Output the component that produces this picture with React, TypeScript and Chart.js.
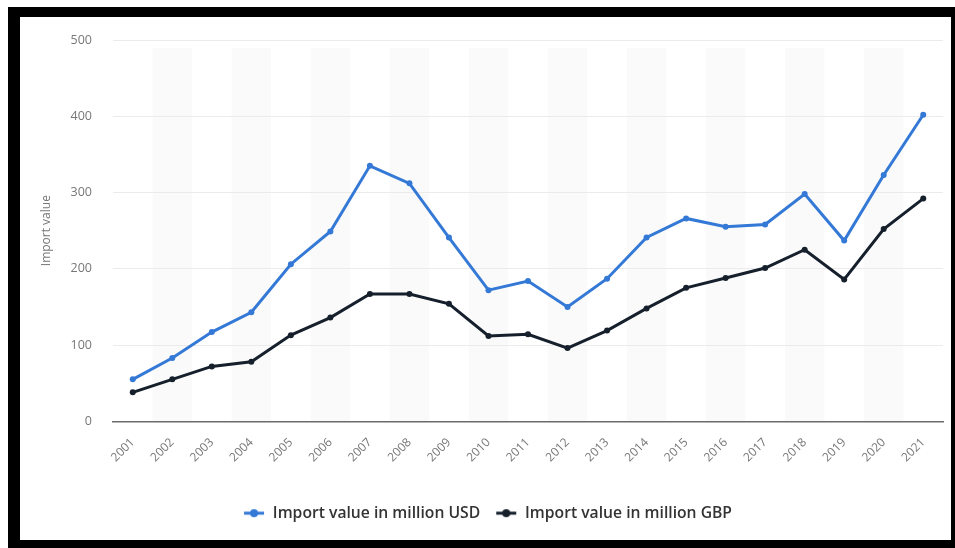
import React, { useEffect, useRef } from "react";
import { Chart, registerables } from "chart.js";

Chart.register(...registerables);

const years = ["2001","2002","2003","2004","2005","2006","2007","2008","2009","2010","2011","2012","2013","2014","2015","2016","2017","2018","2019","2020","2021"];
const usdValues = [55, 83, 117, 143, 206, 249, 335, 312, 241, 172, 184, 150, 187, 241, 266, 255, 258, 298, 237, 323, 402];
const gbpValues = [38, 55, 72, 78, 113, 136, 167, 167, 154, 112, 114, 96, 119, 148, 175, 188, 201, 225, 186, 252, 292];
const yTicks = [0, 100, 200, 300, 400, 500];
const seriesNames = ["Import value in million USD", "Import value in million GBP"];

const USD_COLOR = "#3479d6";
const GBP_COLOR = "#16202c";

function makeMarker(color: string): HTMLCanvasElement {
  const c = document.createElement("canvas");
  c.width = 22;
  c.height = 10;
  const ctx = c.getContext("2d")!;
  ctx.strokeStyle = color;
  ctx.lineWidth = 3;
  ctx.beginPath();
  ctx.moveTo(1, 5);
  ctx.lineTo(21, 5);
  ctx.stroke();
  ctx.fillStyle = color;
  ctx.beginPath();
  ctx.arc(11, 5, 4, 0, Math.PI * 2);
  ctx.fill();
  return c;
}

const bandPlugin = {
  id: "bands",
  beforeDraw(chart: any) {
    const { ctx, chartArea, scales } = chart;
    const x = scales.x;
    const w = (chartArea.right - chartArea.left) / years.length;
    ctx.save();
    ctx.fillStyle = "#fafafa";
    for (let i = 1; i < years.length; i += 2) {
      const cx = x.getPixelForValue(i);
      ctx.fillRect(cx - w / 2, chartArea.top + 8, w, chartArea.bottom - chartArea.top - 8);
    }
    ctx.restore();
  },
};

export default function App() {
  const ref = useRef<HTMLCanvasElement | null>(null);
  useEffect(() => {
    if (!ref.current) return;
    const markers = [makeMarker(USD_COLOR), makeMarker(GBP_COLOR)];
    const chart = new Chart(ref.current, {
      type: "line",
      data: {
        labels: years,
        datasets: [
          {
            label: seriesNames[0],
            data: usdValues,
            borderColor: USD_COLOR,
            backgroundColor: USD_COLOR,
            borderWidth: 3,
            pointRadius: 3,
            pointBackgroundColor: USD_COLOR,
            pointBorderWidth: 0,
            pointStyle: "circle",
            tension: 0,
          },
          {
            label: seriesNames[1],
            data: gbpValues,
            borderColor: GBP_COLOR,
            backgroundColor: GBP_COLOR,
            borderWidth: 3,
            pointRadius: 3,
            pointBackgroundColor: GBP_COLOR,
            pointBorderWidth: 0,
            pointStyle: "circle",
            tension: 0,
          },
        ],
      },
      options: {
        responsive: false,
        maintainAspectRatio: false,
        animation: false,
        layout: { padding: { left: 12, right: 8, top: 23, bottom: 9 } },
        plugins: {
          legend: {
            position: "bottom",
            labels: {
              usePointStyle: true,
              pointStyleWidth: 22,
              color: "#333333",
              font: { family: "'Open Sans', sans-serif", size: 15.7, weight: "600" as any },
              padding: 15,
              generateLabels: (chart: any) => {
                const items = Chart.defaults.plugins.legend.labels.generateLabels(chart);
                return items.map((it: any, i: number) => ({ ...it, pointStyle: markers[i] }));
              },
            },
          },
          tooltip: { enabled: false },
        },
        scales: {
          x: {
            offset: true,
            grid: { display: false, drawTicks: false },
            border: { display: true, color: "#6b6b6b", width: 1.5 },
            ticks: {
              color: "#777777",
              font: { family: "'Open Sans', sans-serif", size: 12 },
              minRotation: 45,
              maxRotation: 45,
              padding: 14,
            },
            afterFit: (s: any) => { s.height = 69; },
          },
          y: {
            min: 0,
            max: 500,
            afterBuildTicks: (s: any) => { s.ticks = yTicks.map((v) => ({ value: v })); },
            grid: { color: "#ebebeb", drawTicks: false, lineWidth: 1 },
            border: { display: false },
            ticks: {
              color: "#777777",
              font: { family: "'Open Sans', sans-serif", size: 12.5 },
              padding: 21,
            },
            title: {
              display: true,
              text: "Import value",
              color: "#777777",
              font: { family: "'Open Sans', sans-serif", size: 12 },
              padding: { top: 7, bottom: 8 },
            },
            afterFit: (s: any) => {
              s.width = 81;
              s.paddingTop = 0;
              s.paddingBottom = 0;
            },
          },
        },
      },
      plugins: [bandPlugin],
    });
    return () => chart.destroy();
  }, []);

  return (
    <div
      style={{
        position: "absolute",
        left: 8,
        top: 7,
        width: 931,
        height: 523,
        borderStyle: "solid",
        borderColor: "#000",
        borderTopWidth: 10,
        borderLeftWidth: 12,
        borderRightWidth: 4,
        borderBottomWidth: 8,
        background: "#fff",
      }}
    >
      <canvas ref={ref} width={931} height={523} style={{ display: "block" }} />
    </div>
  );
}
